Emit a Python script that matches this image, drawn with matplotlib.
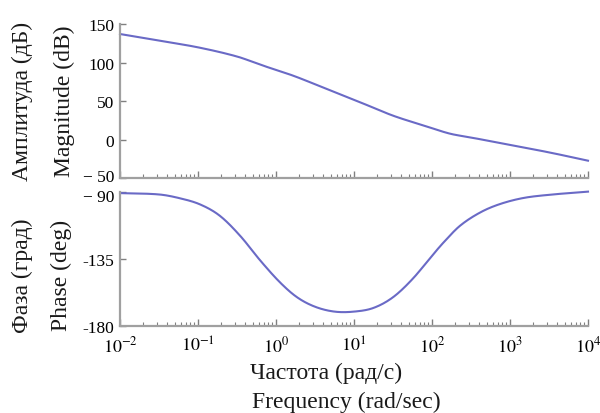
import numpy as np
import matplotlib
matplotlib.use("Agg")
import matplotlib.pyplot as plt
import matplotlib.transforms as mtransforms
from matplotlib.ticker import LogLocator, NullFormatter, FixedLocator, FixedFormatter

plt.rcParams['font.family'] = ['Liberation Serif', 'DejaVu Serif']
plt.rcParams['mathtext.fontset'] = 'stix'

# Data: log10 of frequency and values
freq_exp = [-2, -1.5, -1, -0.5, -0.2, 0.22, 0.65, 1.08, 1.5, 1.93, 2.23, 2.5, 3, 3.5, 4]
mag_db = [137, 128.4, 119.7, 107.8, 97.1, 82.9, 65.6, 48.3, 31, 17, 7.6, 2.6, -7, -16.7, -27.5]

phase_exp = [-2, -1.5, -1.23, -0.97, -0.72, -0.46, -0.2, 0.05, 0.27, 0.5, 0.75, 1, 1.25,
             1.5, 1.75, 2, 2.15, 2.36, 2.62, 2.87, 3.17, 3.51, 4]
phase_deg = [-90.5, -91.4, -94.0, -98.2, -105.8, -119.3, -136.1, -150.7, -160.8, -167.2,
             -170.5, -170.5, -168, -160.8, -148.5, -132.8, -123.7, -112.5, -103.5, -97.9,
             -93.8, -91.6, -89.5]

mag_ticks = [150, 100, 50, 0, -50]
mag_ticklabels = ['150', '100', '50', '0', '− 50']
phase_ticks = [-90, -135, -180]
phase_ticklabels = ['− 90', '-135', '-180']
x_ticks_exp = [-2, -1, 0, 1, 2, 3, 4]

line_color = '#6a6ac6'
spine_color = '#a0a0a0'


def smooth(xs, ys, n=30):
    """Cubic Hermite curve through the read points."""
    xs = np.array(xs, float)
    ys = np.array(ys, float)
    k = len(xs)
    m = np.zeros(k)
    for i in range(k):
        if i == 0:
            m[i] = (ys[1] - ys[0]) / (xs[1] - xs[0])
        elif i == k - 1:
            m[i] = (ys[-1] - ys[-2]) / (xs[-1] - xs[-2])
        else:
            m[i] = (ys[i + 1] - ys[i - 1]) / (xs[i + 1] - xs[i - 1])
    xo, yo = [], []
    for i in range(k - 1):
        h = xs[i + 1] - xs[i]
        t = np.linspace(0, 1, n, endpoint=(i == k - 2))
        h00 = 2 * t**3 - 3 * t**2 + 1
        h10 = t**3 - 2 * t**2 + t
        h01 = -2 * t**3 + 3 * t**2
        h11 = t**3 - t**2
        yo.append(h00 * ys[i] + h10 * h * m[i] + h01 * ys[i + 1] + h11 * h * m[i + 1])
        xo.append(xs[i] + t * h)
    return 10.0 ** np.concatenate(xo), np.concatenate(yo)


fig = plt.figure(figsize=(6, 4.14), dpi=100)
ax1 = fig.add_axes([0.2, 0.5676, 0.78, 0.372])
ax2 = fig.add_axes([0.2, 0.2109, 0.78, 0.322])

x1s, y1s = smooth(freq_exp, mag_db)
x2s, y2s = smooth(phase_exp, phase_deg)

ax1.plot(x1s, y1s, color=line_color, lw=1.5, clip_on=False)
ax2.plot(x2s, y2s, color=line_color, lw=1.5, clip_on=False)

for ax in (ax1, ax2):
    ax.set_xscale('log')
    ax.set_xlim(1e-2, 1e4)
    for s in ('top', 'right'):
        ax.spines[s].set_visible(False)
    for s in ('left', 'bottom'):
        ax.spines[s].set_color(spine_color)
        ax.spines[s].set_linewidth(1.6)
    ax.xaxis.set_major_locator(FixedLocator([10.0 ** e for e in x_ticks_exp]))
    ax.xaxis.set_minor_locator(LogLocator(base=10, subs=np.arange(2, 10)))
    ax.xaxis.set_minor_formatter(NullFormatter())
    ax.tick_params(axis='both', which='both', direction='in', color='#808080')
    ax.tick_params(axis='x', which='major', length=5, width=1)
    ax.tick_params(axis='x', which='minor', length=3, width=0.8)
    ax.tick_params(axis='y', which='major', length=4, width=1, labelsize=12.5, pad=4)
    ax.set_facecolor('none')

ax1.set_ylim(-50, 150)
ax1.yaxis.set_major_locator(FixedLocator(mag_ticks))
ax1.yaxis.set_major_formatter(FixedFormatter(mag_ticklabels))
ax1.xaxis.set_major_formatter(NullFormatter())

ax2.set_ylim(-180, -90)
ax2.yaxis.set_major_locator(FixedLocator(phase_ticks))
ax2.yaxis.set_major_formatter(FixedFormatter(phase_ticklabels))
ax2.xaxis.set_major_formatter(FixedFormatter(['$10^{%d}$' % e for e in x_ticks_exp]))
ax2.tick_params(axis='x', which='major', labelsize=13, pad=7)

# nudge the two adjacent labels (−50 / −90) apart slightly
fig.canvas.draw()
up = mtransforms.ScaledTranslation(0, 3 / 100, fig.dpi_scale_trans)
down = mtransforms.ScaledTranslation(0, -3 / 100, fig.dpi_scale_trans)
lbl = ax1.yaxis.get_majorticklabels()[-1]
lbl.set_transform(lbl.get_transform() + up)
lbl = ax2.yaxis.get_majorticklabels()[0]
lbl.set_transform(lbl.get_transform() + down)

txt = '#1a1a1a'
fs = 17
fig.text(0.038, 0.755, 'Амплитуда (дБ)', rotation=90, ha='center', va='center', fontsize=fs, color=txt)
fig.text(0.108, 0.755, 'Magnitude (dB)', rotation=90, ha='center', va='center', fontsize=fs, color=txt)
fig.text(0.038, 0.335, 'Фаза (град)', rotation=90, ha='center', va='center', fontsize=fs, color=txt)
fig.text(0.103, 0.335, 'Phase (deg)', rotation=90, ha='center', va='center', fontsize=fs, color=txt)
fig.text(0.543, 0.098, 'Частота (рад/с)', ha='center', va='center', fontsize=fs, color=txt)
fig.text(0.577, 0.027, 'Frequency (rad/sec)', ha='center', va='center', fontsize=fs, color=txt)

fig.savefig('out.png', dpi=100, facecolor='white')
